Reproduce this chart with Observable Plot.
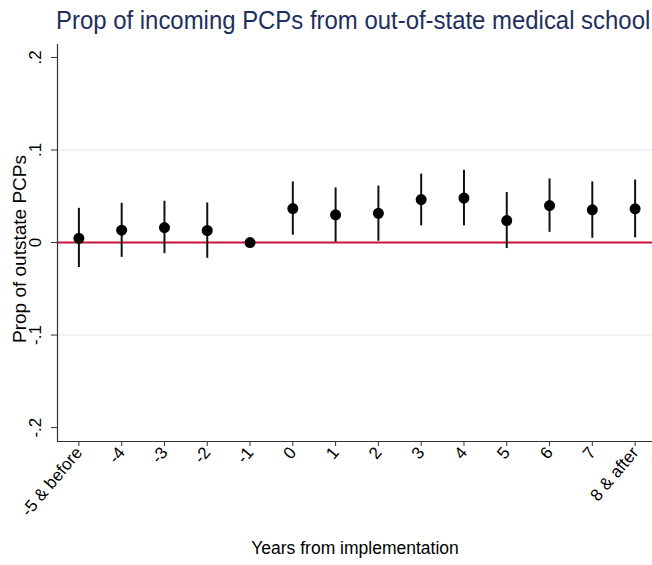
<!DOCTYPE html>
<html><head><meta charset="utf-8">
<script src="https://cdn.jsdelivr.net/npm/d3@7"></script>
<script src="https://cdn.jsdelivr.net/npm/@observablehq/plot@0.6"></script>
<style>
body{margin:0;background:#fff;overflow:hidden;width:652px;height:565px;position:relative;}
#title{position:absolute;left:56px;top:7px;white-space:nowrap;font-family:"Liberation Sans",Arial,sans-serif;font-size:26px;line-height:26px;color:#1e2f5e;transform:scaleX(0.92);transform-origin:0 0;}
#chart{position:absolute;left:0;top:40px;}
#chart svg g[aria-label="x-axis tick label"], #chart svg g[aria-label="y-axis tick label"]{font-size:17px !important;}
</style></head>
<body>
<div id="title">Prop of incoming PCPs from out-of-state medical school</div>
<div id="chart"></div>
<script>
const periods = ["-5 & before","-4","-3","-2","-1","0","1","2","3","4","5","6","7","8 & after"];
const estimate = [0.0046,0.0133,0.0162,0.013,0,0.0367,0.030,0.0316,0.0464,0.048,0.0237,0.040,0.0353,0.0364];
const ciLow  = [-0.027,-0.016,-0.012,-0.017,null,0.0079,0.0003,0.0014,0.018,0.018,-0.0065,0.011,0.0046,0.005];
const ciHigh = [0.037,0.0424,0.0446,0.0428,null,0.0655,0.059,0.061,0.074,0.078,0.054,0.0687,0.0655,0.0676];
const yTicks = [-0.2,-0.1,0,0.1,0.2];
const yTickLabels = ["-.2","-.1","0",".1",".2"];
const yGrid = [-0.1,0.1];
const yLabel = "Prop of outstate PCPs";
const xLabel = "Years from implementation";

const rows = periods.map((p,i)=>({period:p, est:estimate[i], lo:ciLow[i], hi:ciHigh[i]}));
const ciRows = rows.filter(d=>d.lo!==null);

const plot = Plot.plot({
  width: 652, height: 525,
  marginLeft: 57, marginRight: 0, marginTop: 4, marginBottom: 124,
  style: {fontFamily: '"Liberation Sans", Arial, sans-serif', fontSize: "16px", color: "#000", background: "#fff"},
  x: {type: "point", domain: periods, range: [57, 656], padding: 0.5, round: false},
  y: {domain: [-0.215, 0.214]},
  marks: [
    Plot.ruleY(yGrid, {stroke: "#eaf0f0", strokeWidth: 1.5}),
    Plot.ruleY([0], {stroke: "#c8143c", strokeWidth: 2}),
    Plot.ruleX(ciRows, {x: "period", y1: "lo", y2: "hi", stroke: "#111", strokeWidth: 2}),
    Plot.dot(rows, {x: "period", y: "est", r: 5.5, fill: "#000", stroke: null}),
    Plot.frame({anchor: "left", stroke: "#333", strokeWidth: 1.2}),
    Plot.frame({anchor: "bottom", stroke: "#333", strokeWidth: 1.2}),
    Plot.axisY({ticks: yTicks, tickFormat: d => yTickLabels[yTicks.findIndex(t => Math.abs(t-d)<1e-9)], tickRotate: -90, tickSize: 6, tickPadding: 11, fontSize: 17, label: null, stroke: "#333"}),
    Plot.axisX({tickSize: 5, tickRotate: -50, tickPadding: 3, fontSize: 17, label: null, stroke: "#333"}),
    Plot.text([yLabel], {frameAnchor: "left", textAnchor: "middle", rotate: -90, dx: -38, dy: 6, fontSize: 19}),
    Plot.text([xLabel], {frameAnchor: "bottom", dy: 112, fontSize: 17.5})
  ]
});
document.getElementById("chart").appendChild(plot);
</script>
</body></html>
